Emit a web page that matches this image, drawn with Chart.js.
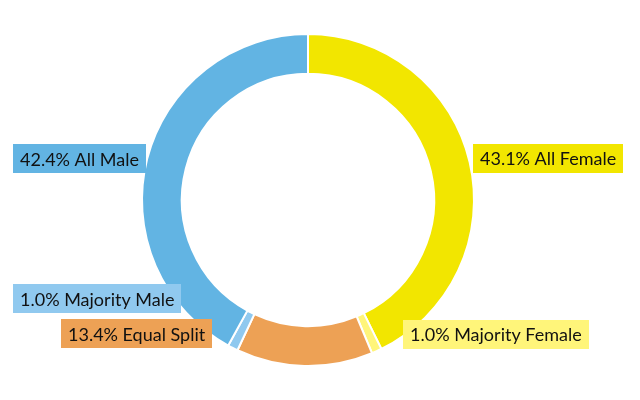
<!DOCTYPE html>
<html>
<head>
<meta charset="utf-8">
<script src="https://cdn.jsdelivr.net/npm/chart.js@4/dist/chart.umd.min.js"></script>
<style>
  html, body { margin: 0; padding: 0; background: #fff; }
  #wrap { width: 640px; height: 400px; }
</style>
</head>
<body>
<div id="wrap"><canvas id="chart"></canvas></div>
<script>
'use strict';

const categories = ['All Female', 'Majority Female', 'Equal Split', 'Majority Male', 'All Male'];
const shares = [43.1, 1.0, 13.4, 1.0, 42.4];
const sliceColors = ['#f2e600', '#fff57a', '#eda155', '#90c9ef', '#62b4e3'];

// label box placement relative to the outer edge of each slice's mid angle
// side: which edge of the box is pinned to the anchor (+dx)
const LABEL_LAYOUT = [
  { side: 'left', dx: 3, dy: -4 },
  { side: 'left', dx: 26, dy: -17 },
  { side: 'right', dx: -92, dy: -32 },
  { side: 'left', dx: -220, dy: -49 },
  { side: 'left', dx: -134, dy: 0 },
];

const FONT = '18px Lato, "Noto Sans", sans-serif';

const boxLabels = {
  id: 'boxLabels',
  afterDatasetsDraw(chart) {
    const ctx = chart.ctx;
    const meta = chart.getDatasetMeta(0);
    ctx.save();
    ctx.font = FONT;
    ctx.textBaseline = 'middle';
    meta.data.forEach((arc, i) => {
      const p = arc.getProps(['x', 'y', 'startAngle', 'endAngle', 'outerRadius'], true);
      const mid = (p.startAngle + p.endAngle) / 2;
      const ax = p.x + Math.cos(mid) * p.outerRadius;
      const ay = p.y + Math.sin(mid) * p.outerRadius;
      const text = shares[i].toFixed(1) + '% ' + categories[i];
      const w = ctx.measureText(text).width + 14;
      const h = 29;
      const lay = LABEL_LAYOUT[i];
      const left = lay.side === 'left' ? ax + lay.dx : ax + lay.dx - w;
      const cy = ay + lay.dy;
      ctx.fillStyle = sliceColors[i];
      ctx.fillRect(Math.round(left), Math.round(cy - h / 2), Math.round(w), h);
      ctx.fillStyle = '#111111';
      ctx.fillText(text, Math.round(left) + 7, Math.round(cy) + 1);
    });
    ctx.restore();
  },
};

new Chart(document.getElementById('chart'), {
  type: 'doughnut',
  data: {
    labels: categories,
    datasets: [{
      data: shares,
      backgroundColor: sliceColors,
      borderColor: '#ffffff',
      borderWidth: 2,
    }],
  },
  options: {
    responsive: true,
    maintainAspectRatio: false,
    animation: false,
    cutout: '76%',
    layout: { padding: { top: 33, bottom: 33, left: 0, right: 24 } },
    plugins: {
      legend: { display: false },
      tooltip: { enabled: false },
    },
  },
  plugins: [boxLabels],
});
</script>
</body>
</html>
